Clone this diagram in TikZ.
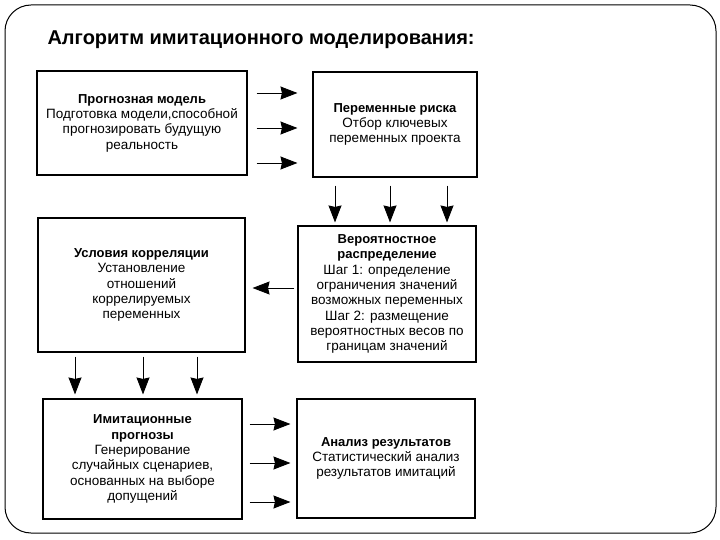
\documentclass[tikz,border=0pt]{standalone}
\usepackage{fontspec}
\setmainfont{Liberation Sans}
\usetikzlibrary{arrows.meta}
\newcommand\hd[1]{{\bfseries\fontsize{13}{15.3}\selectfont #1}}
\begin{document}
\begin{tikzpicture}[x=1pt,y=-1pt,font=\fontsize{13.5}{15.3}\selectfont,
  box/.style={draw,line width=1.1pt,align=center,inner sep=0pt},
  arr/.style={-{Stealth[length=17pt,width=13pt,inset=1.5pt]},line width=0.9pt}]
\useasboundingbox (0,0) rectangle (720,540);
\draw[line width=1pt,rounded corners=26pt](5,5) rectangle (716,533);
\node[anchor=base west,font=\fontsize{20}{22}\selectfont\bfseries] (title) at (44,45) {Алгоритм имитационного моделирования:};
\node[box,minimum width=210,minimum height=104] (model) at (142,123)
  {\hd{Прогнозная модель}\\Подготовка модели,способной\\прогнозировать будущую\\реальность};
\node[box,minimum width=164,minimum height=105] (risk) at (395,124.5)
  {\hd{Переменные риска}\\Отбор ключевых\\переменных проекта};
\node[box,minimum width=207,minimum height=134] (corr) at (141.5,285)
  {\hd{Условия корреляции}\\Установление\\отношений\\коррелируемых\\переменных};
\node[box,minimum width=178,minimum height=136] (distr) at (387,294)
  {\hd{Вероятностное}\\\hd{распределение}\\Шаг 1: определение\\ограничения значений\\возможных переменных\\Шаг 2: размещение\\вероятностных весов по\\границам значений};
\node[box,minimum width=199,minimum height=120] (sim) at (142.5,459)
  {\hd{Имитационные}\\\hd{прогнозы}\\Генерирование\\случайных сценариев,\\основанных на выборе\\допущений};
\node[box,minimum width=178,minimum height=119] (res) at (386,458.5)
  {\hd{Анализ результатов}\\Статистический анализ\\результатов имитаций};
\foreach \y in {93,128,163}
  \draw[arr,shorten <=9pt,shorten >=15pt](model.east|-0,\y)--(risk.west|-0,\y);
\foreach \x in {335,390,447}
  \draw[arr,shorten <=8pt,shorten >=3pt](risk.south-|\x,0)--(distr.north-|\x,0);
\draw[arr,shorten <=3pt,shorten >=7pt](distr.west|-0,288)--(corr.east|-0,288);
\foreach \x in {75,143,197}
  \draw[arr,shorten <=4pt,shorten >=4pt](corr.south-|\x,0)--(sim.north-|\x,0);
\foreach \y in {424,463,502}
  \draw[arr,shorten <=7pt,shorten >=6pt](sim.east|-0,\y)--(res.west|-0,\y);
\end{tikzpicture}
\end{document}
